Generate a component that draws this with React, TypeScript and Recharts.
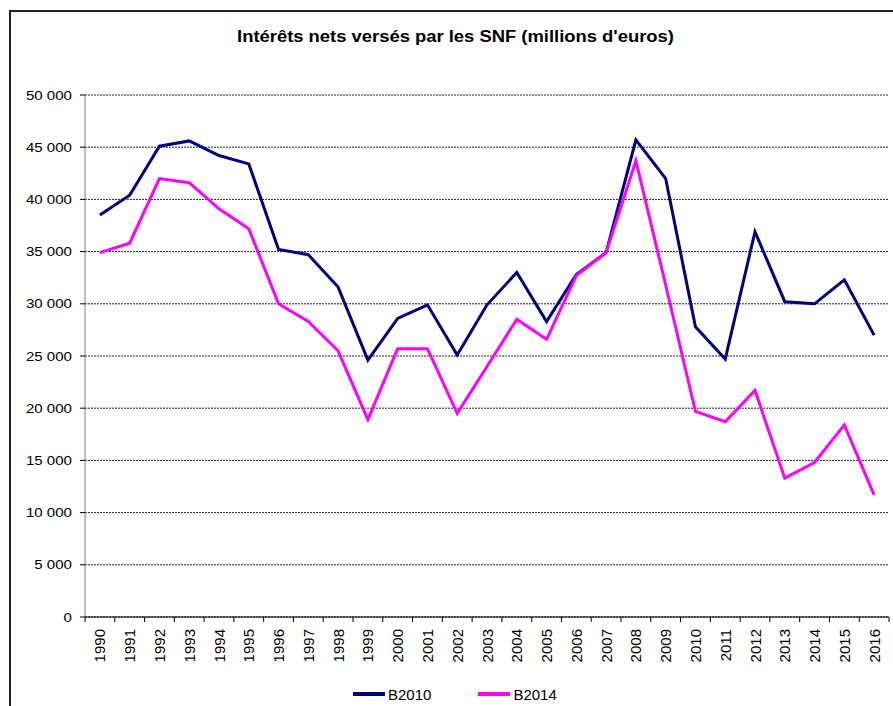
import { CartesianGrid, Line, LineChart, XAxis, YAxis } from "recharts"

const years = [
  1990, 1991, 1992, 1993, 1994, 1995, 1996, 1997, 1998, 1999, 2000, 2001, 2002, 2003,
  2004, 2005, 2006, 2007, 2008, 2009, 2010, 2011, 2012, 2013, 2014, 2015, 2016,
]
const b2010 = [
  38500, 40400, 45100, 45600, 44200, 43400, 35200, 34700, 31600, 24600, 28600, 29900, 25100, 29900,
  33000, 28300, 32800, 34900, 45700, 42000, 27800, 24700, 36900, 30200, 30000, 32300, 27000,
]
const b2014 = [
  34900, 35800, 42000, 41600, 39100, 37200, 30000, 28300, 25500, 18900, 25700, 25700, 19500, 24000,
  28500, 26600, 32700, 34900, 43700, 31800, 19700, 18700, 21700, 13300, 14800, 18400, 11700,
]
const yTicks = [0, 5000, 10000, 15000, 20000, 25000, 30000, 35000, 40000, 45000, 50000]

const data = years.map((year, i) => ({ year, B2010: b2010[i], B2014: b2014[i] }))

const W = 893
const H = 706
const LEFT = 85
const RIGHT = 4
const FONT = "'Liberation Sans', Arial, sans-serif"
const half = (W - LEFT - RIGHT) / years.length / 2

const fmt = (v: number) => String(v).replace(/\B(?=(\d{3})+(?!\d))/g, " ")

const YearTick = (props: any) => {
  const { x, y, payload, index } = props
  const ty = y + 12
  return (
    <g>
      <line x1={x - half} y1={y} x2={x - half} y2={y + 5} stroke="#000" />
      {index === years.length - 1 && <line x1={x + half} y1={y} x2={x + half} y2={y + 5} stroke="#000" />}
      <text
        x={x}
        y={ty}
        transform={`rotate(-90 ${x} ${ty})`}
        textAnchor="end"
        dominantBaseline="central"
        fontSize={15}
        fontFamily={FONT}
        fill="#000"
      >
        {payload.value}
      </text>
    </g>
  )
}

const ValueTick = (props: any) => {
  const { x, y, payload } = props
  return (
    <text
      transform={`translate(${x} ${y}) scale(1.16 1)`}
      textAnchor="end"
      dominantBaseline="central"
      fontSize={13}
      fontFamily={FONT}
      fill="#000"
    >
      {fmt(payload.value)}
    </text>
  )
}

const App = () => {
  return (
    <div style={{ position: "absolute", left: 0, top: 0, width: W, height: H, background: "#fff", fontFamily: FONT, overflow: "hidden" }}>
      <div style={{ position: "absolute", left: 9, top: 10, right: -10, bottom: -10, borderLeft: "2px solid #222", borderTop: "2px solid #222" }} />
      <div style={{ position: "absolute", left: 0, width: 911, top: 28, textAlign: "center", fontSize: 16, fontWeight: "bold", color: "#000", transform: "scaleX(1.15)", transformOrigin: "455.5px 0" }}>
        Intérêts nets versés par les SNF (millions d'euros)
      </div>
      <div style={{ position: "absolute", top: 0, left: 0 }}>
        <LineChart width={W} height={H} data={data} margin={{ top: 95, right: RIGHT, bottom: 29, left: 0 }}>
          <CartesianGrid vertical={false} stroke="#222" strokeDasharray="2 1" />
          <XAxis
            dataKey="year"
            type="number"
            domain={[years[0] - 0.5, years[years.length - 1] + 0.5]}
            ticks={years}
            interval={0}
            height={60}
            tickSize={0}
            tickMargin={0}
            tickLine={false}
            axisLine={{ stroke: "#000" }}
            tick={<YearTick />}
          />
          <YAxis
            domain={[0, 50000]}
            ticks={yTicks}
            width={LEFT}
            tickSize={5}
            tickMargin={8}
            axisLine={{ stroke: "#808080" }}
            tickLine={{ stroke: "#000" }}
            tick={<ValueTick />}
          />
          <Line dataKey="B2010" stroke="#000080" strokeWidth={3} dot={false} isAnimationActive={false} />
          <Line dataKey="B2014" stroke="#FF00FF" strokeWidth={3} dot={false} isAnimationActive={false} />
        </LineChart>
      </div>
      <div style={{ position: "absolute", top: 685, left: 353, height: 18, display: "flex", alignItems: "center", fontSize: 15, color: "#000", whiteSpace: "nowrap" }}>
        <span style={{ display: "inline-block", width: 32, height: 4, background: "#000080", marginRight: 3 }} />
        <span style={{ marginRight: 47 }}>B2010</span>
        <span style={{ display: "inline-block", width: 32, height: 4, background: "#FF00FF", marginRight: 3 }} />
        <span>B2014</span>
      </div>
    </div>
  )
}

export default App
